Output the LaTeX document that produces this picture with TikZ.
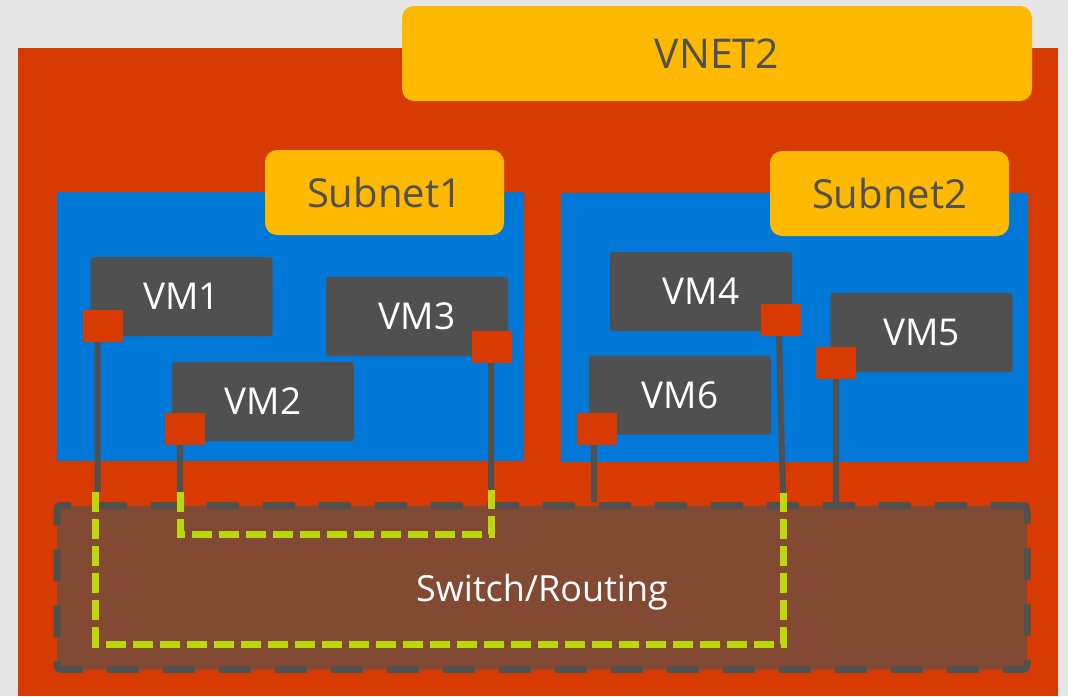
\documentclass[tikz,border=0pt]{standalone}
\usepackage{fontspec}
\setmainfont{Open Sans}
\usepackage{tikz}
\usetikzlibrary{arrows,positioning}
\definecolor{bggray}{HTML}{E6E6E6}
\definecolor{vnetred}{HTML}{D83B01}
\definecolor{tagyellow}{HTML}{FFB900}
\definecolor{subblue}{HTML}{0078D7}
\definecolor{vmgray}{HTML}{505050}
\definecolor{swbrown}{HTML}{834A33}
\definecolor{routelime}{HTML}{BAD80A}
\tikzset{
  %Define style for the yellow name tags
  tag/.style={
    rectangle,
    rounded corners=12pt,
    fill=tagyellow,
    text=vmgray,
    inner sep=0pt},
  %Define style for the subnets
  subnet/.style={
    rectangle,
    fill=subblue,
    minimum width=467pt,
    minimum height=269pt},
  %Define style for the virtual machines
  vmbox/.style={
    rectangle,
    rounded corners=3pt,
    fill=vmgray,
    text=white,
    minimum width=182pt,
    minimum height=79pt,
    font=\fontsize{37}{43}\selectfont},
  %Define style for the network ports
  nic/.style={
    rectangle,
    fill=vnetred,
    minimum width=40pt,
    minimum height=32pt,
    inner sep=0pt},
  %Define style for the switch
  switchbox/.style={
    rectangle,
    rounded corners=4pt,
    fill=swbrown,
    draw=vmgray,
    line width=7pt,
    dash pattern=on 32pt off 24pt,
    text depth=0pt,
    text=white,
    font=\fontsize{36}{42}\selectfont},
  % Define wire style
  wire/.style={
    draw=vmgray,
    line width=6pt},
  % Define style for the routed traffic
  route/.style={
    draw=routelime,
    line width=7pt,
    dash pattern=on 20pt off 7pt,
    miter limit=4}
}

\begin{document}
\begin{tikzpicture}[x=1pt,y=-1pt]
  \fill[bggray] (0,0) rectangle (1068,696);
  \useasboundingbox (0,0) rectangle (1068,696);
  \fill[vnetred] (18,48) rectangle (1058,696);
  \node[tag,minimum width=630pt,minimum height=95pt,font=\fontsize{41}{48}\selectfont] (vnet) at (717,53.5) {VNET2};
  \node[subnet] (sub1) at (290.5,326.5) {};
  \node[subnet] (sub2) at (794.5,327.5) {};
  \node[tag,minimum width=239pt,minimum height=85pt,font=\fontsize{40}{46}\selectfont] (tag1) at (384.5,192.5) {Subnet1};
  \node[tag,minimum width=239pt,minimum height=85pt,font=\fontsize{40}{46}\selectfont] (tag2) at (889.5,193.5) {Subnet2};
  \node[vmbox] (vm1) at (181.5,296.5) {VM1};
  \node[vmbox] (vm2) at (263,401.5) {VM2};
  \node[vmbox] (vm3) at (417,316.5) {VM3};
  \node[vmbox] (vm4) at (701,291.5) {VM4};
  \node[vmbox] (vm5) at (921.5,332.5) {VM5};
  \node[vmbox] (vm6) at (680,395) {VM6};
  \node[nic] (nic1) at (103,326) {};
  \node[nic] (nic2) at (185,429) {};
  \node[nic] (nic3) at (492,347) {};
  \node[nic] (nic4) at (781,320) {};
  \node[nic] (nic5) at (836,363) {};
  \node[nic] (nic6) at (597,429) {};
  \node[switchbox,minimum width=970pt,minimum height=164pt] (sw) at (542,587.5) {Switch/Routing};
  \coordinate (t1) at (97.5,492);
  \coordinate (t2) at (180,492);
  \coordinate (t3) at (491,490);
  \coordinate (t4) at (783,493);
  \path[wire]
    ([xshift=-5.5pt]nic1.south) -- (t1)
    ([xshift=-5pt]nic2.south) -- (t2)
    ([xshift=-1pt]nic3.south) -- (t3)
    ([xshift=-2pt]nic4.south) -- (t4)
    (nic5.south) -- ([yshift=-2pt]nic5.south |- sw.north)
    ([xshift=-3pt]nic6.south) -- ([xshift=-3pt]nic6.south |- sw.north);
  \draw[route] (t2) -- ++(0,42) -| (t3);
  \draw[route] ([xshift=-2pt]t1) -- ++(0,152) -| (t4);
\end{tikzpicture}
\end{document}
